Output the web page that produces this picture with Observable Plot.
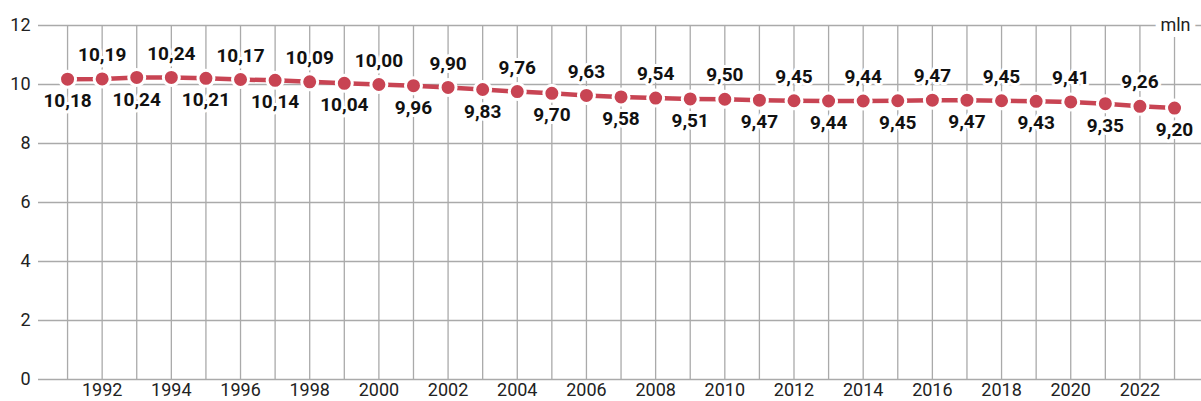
<!DOCTYPE html>
<html><head><meta charset="utf-8">
<script src="https://cdn.jsdelivr.net/npm/d3@7"></script>
<script src="https://cdn.jsdelivr.net/npm/@observablehq/plot@0.6"></script>
<style>
body{margin:0;background:#fff;font-family:Roboto,sans-serif;}
</style>
</head><body><div id="chart"></div>
<script>
const years = d3.range(1991, 2024);
const values = [10.18,10.19,10.24,10.24,10.21,10.17,10.14,10.09,10.04,10.00,9.96,9.90,9.83,9.76,9.70,9.63,9.58,9.54,9.51,9.50,9.47,9.45,9.44,9.44,9.45,9.47,9.47,9.45,9.43,9.41,9.35,9.26,9.20];
const yTicks = [0,2,4,6,8,10,12];
const xLabelTicks = d3.range(1992, 2023, 2);
const unitLabel = "mln";

const data = years.map((y,i)=>({year:y, value:values[i], above: i%2===1}));
const fmt = v => v.toFixed(2).replace(".", ",");

const plot = Plot.plot({
  width: 1201, height: 401,
  marginLeft: 38, marginRight: 0, marginTop: 25, marginBottom: 22,
  style: {fontFamily: "Roboto, sans-serif", fontSize: "18px", color: "#222", background: "#fff"},
  x: {domain: [1990.16, 2023.78], label: null},
  y: {domain: [0, 12], label: null},
  marks: [
    Plot.ruleY(yTicks, {stroke: "#aaa", strokeWidth: 1.3, strokeOpacity: 1}),
    Plot.ruleX(years, {y1: 0, y2: 12, stroke: "#aaa", strokeWidth: 1.3, strokeOpacity: 1}),
    Plot.axisY({ticks: yTicks, tickSize: 0, tickPadding: 8, fontSize: 18, label: null}),
    Plot.axisX({ticks: xLabelTicks, tickSize: 0, tickPadding: 4, tickFormat: d => String(d), fontSize: 18, label: null}),
    Plot.text([unitLabel], {frameAnchor: "top-right", lineAnchor: "middle", dx: -11, text: d => d, fontSize: 18, fill: "#222", stroke: "white", strokeWidth: 12, paintOrder: "stroke"}),
    Plot.line(data, {x: "year", y: "value", stroke: "#c84453", strokeWidth: 4.5}),
    Plot.dot(data, {x: "year", y: "value", r: 8, fill: "#c84453", stroke: "white", strokeWidth: 3}),
    Plot.text(data.filter(d=>d.above), {x: "year", y: "value", text: d => fmt(d.value), dy: -24, fontWeight: "bold", fontSize: 19, fill: "#111", stroke: "white", strokeWidth: 6, paintOrder: "stroke"}),
    Plot.text(data.filter(d=>!d.above), {x: "year", y: "value", text: d => fmt(d.value), dy: 22, fontWeight: "bold", fontSize: 19, fill: "#111", stroke: "white", strokeWidth: 6, paintOrder: "stroke"})
  ]
});
document.getElementById("chart").appendChild(plot);
</script>
</body></html>
